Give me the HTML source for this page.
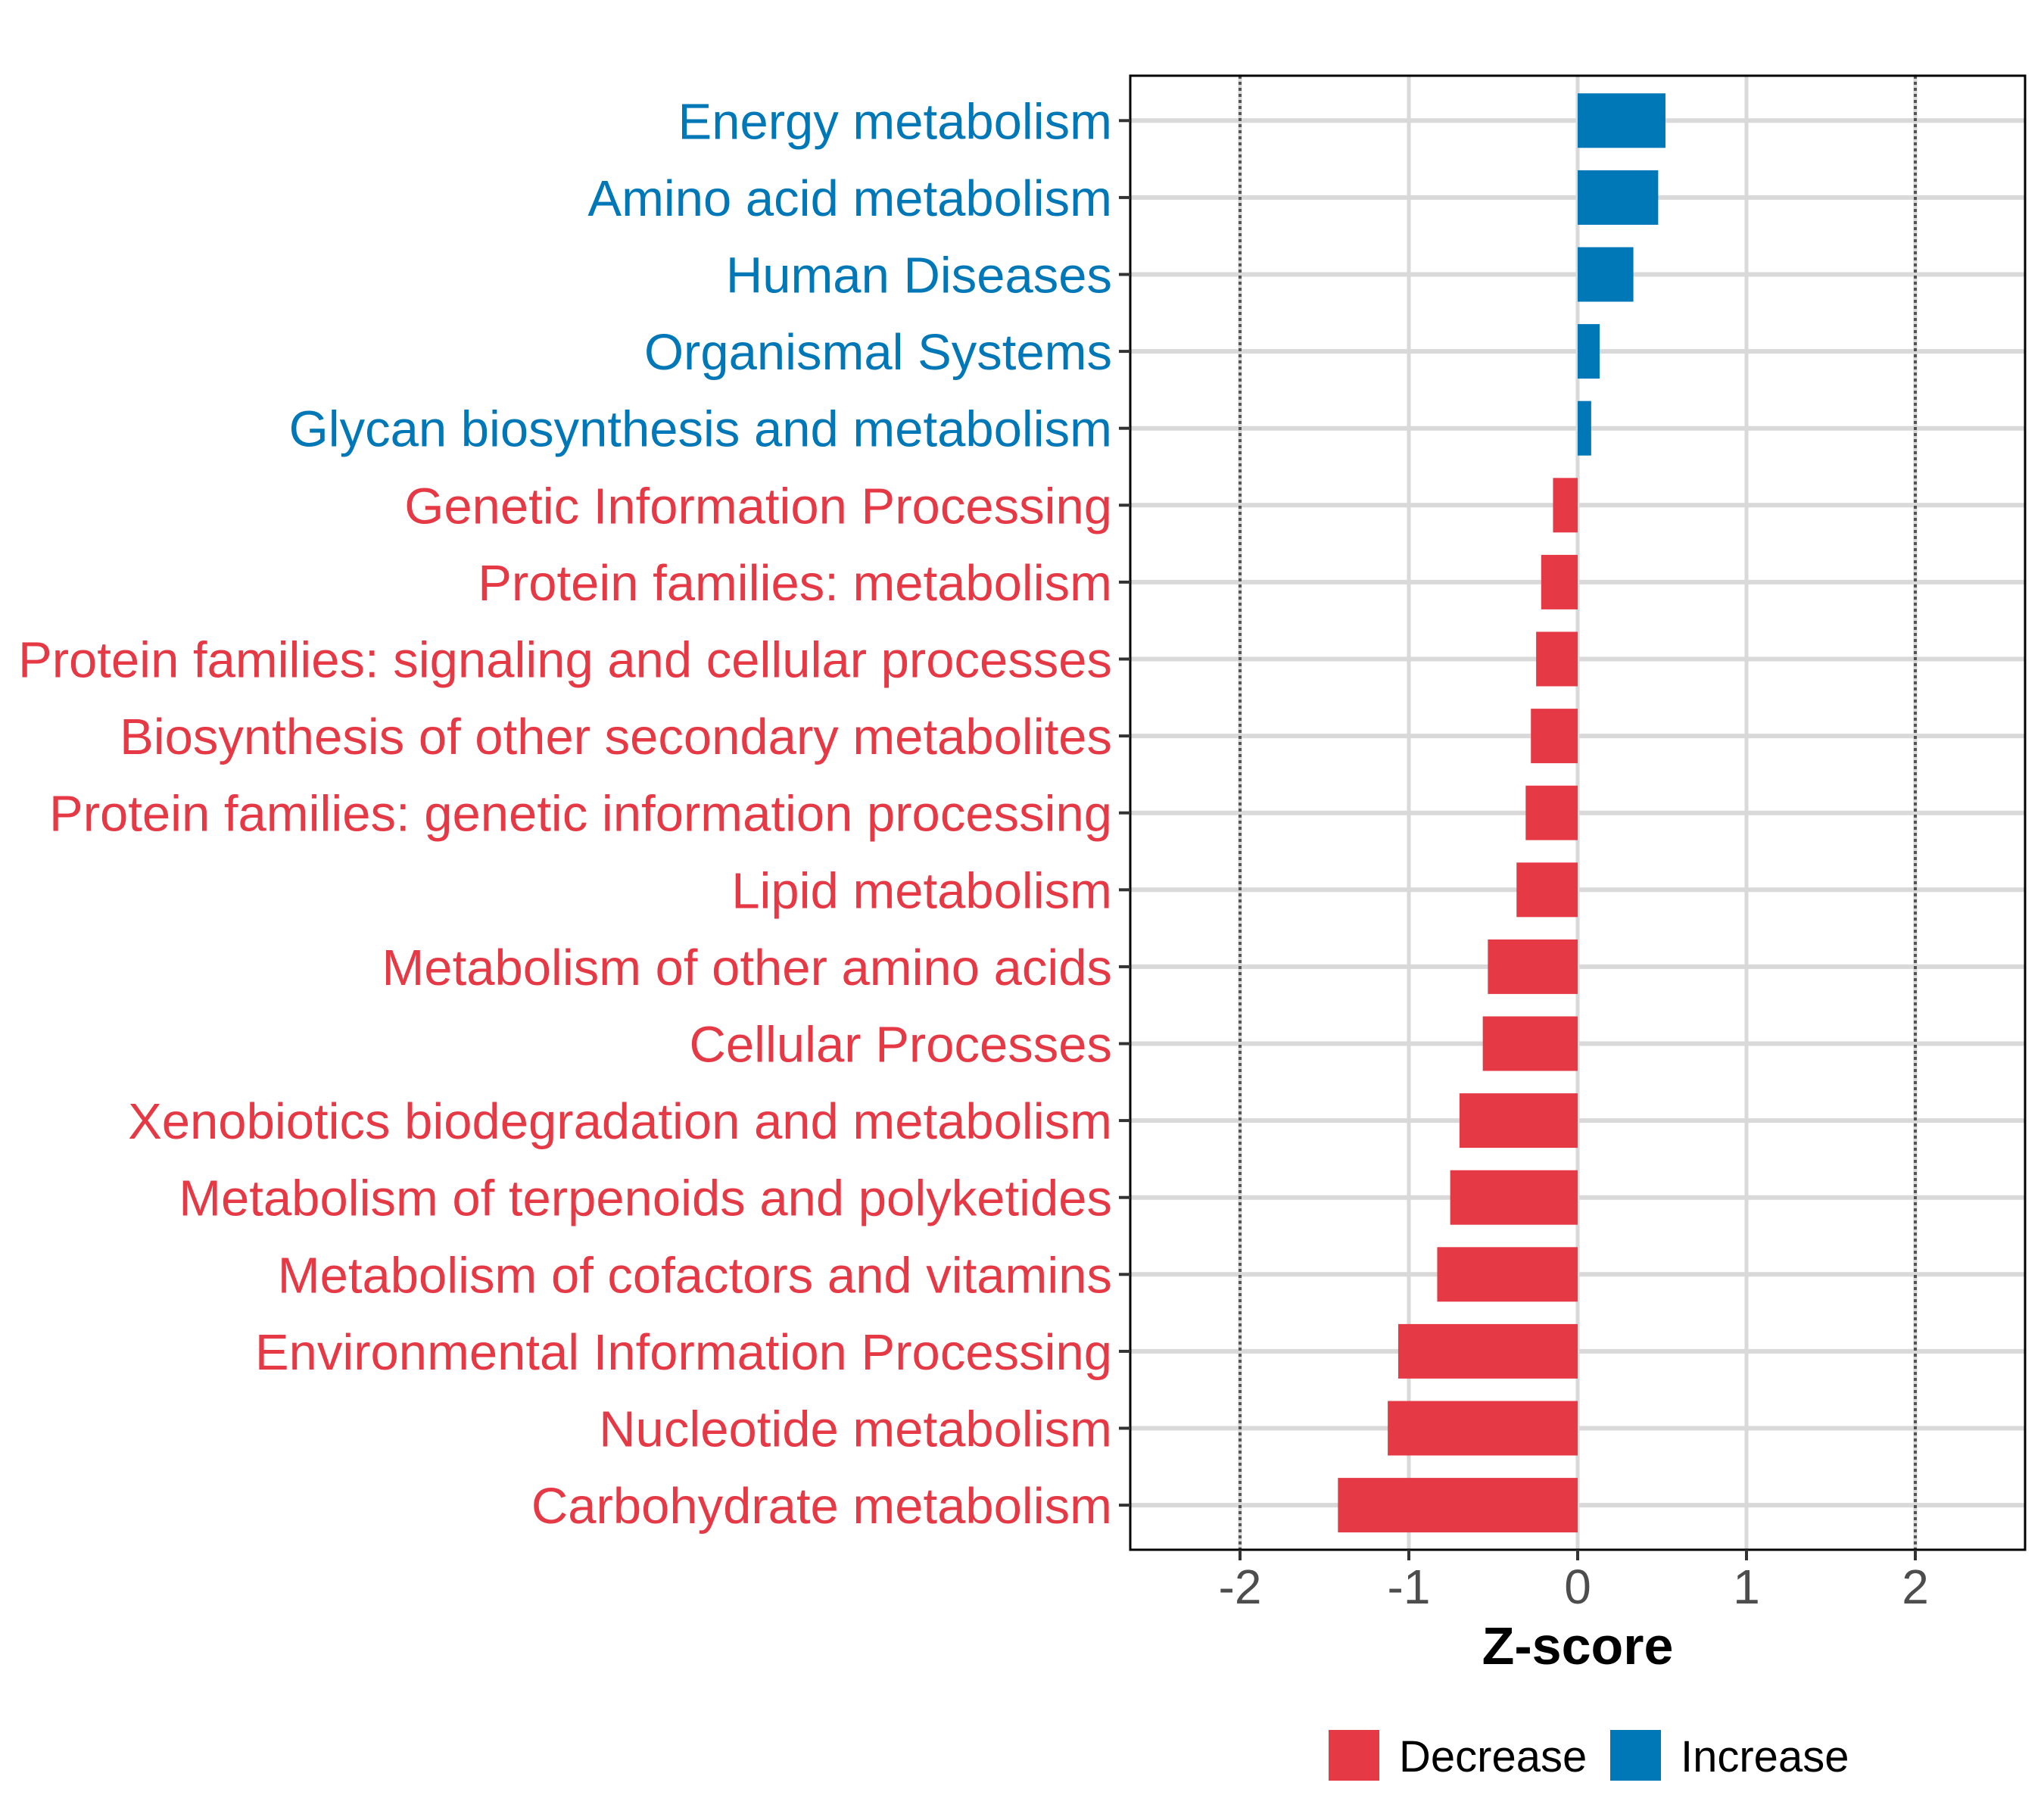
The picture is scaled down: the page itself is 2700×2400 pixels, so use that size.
<!DOCTYPE html>
<html><head><meta charset="utf-8"><style>
html,body{margin:0;padding:0;background:#fff;}
svg{display:block;font-family:"Liberation Sans",Arial,sans-serif;}
</style></head><body>
<svg id="chart" width="2700" height="2400" viewBox="0 0 2700 2400" xmlns="http://www.w3.org/2000/svg">
<rect x="0" y="0" width="2700" height="2400" fill="#fff"/>
<g id="grid"></g>
<g id="bars"></g>
<g id="refs"></g>
<rect x="1493" y="100" width="1182" height="1947" fill="none" stroke="#000" stroke-width="3"/>
<g id="ylabels"></g>
<g id="xticks"></g>
<text x="2084" y="2198" font-size="70" font-weight="bold" text-anchor="middle" fill="#000">Z-score</text>
<g>
<g>
<rect x="1755" y="2285" width="67" height="67" fill="#E63946"/>
<text x="1848" y="2340" font-size="58" fill="#000">Decrease</text>
</g>
<g>
<rect x="2127" y="2285" width="67" height="67" fill="#0077B6"/>
<text x="2220" y="2340" font-size="58" fill="#000">Increase</text>
</g>
</g>
</svg>
<script>
const categories = ["Energy metabolism","Amino acid metabolism","Human Diseases","Organismal Systems","Glycan biosynthesis and metabolism","Genetic Information Processing","Protein families: metabolism","Protein families: signaling and cellular processes","Biosynthesis of other secondary metabolites","Protein families: genetic information processing","Lipid metabolism","Metabolism of other amino acids","Cellular Processes","Xenobiotics biodegradation and metabolism","Metabolism of terpenoids and polyketides","Metabolism of cofactors and vitamins","Environmental Information Processing","Nucleotide metabolism","Carbohydrate metabolism"];
const zscores = [0.52,0.477,0.33,0.13,0.08,-0.146,-0.216,-0.246,-0.277,-0.308,-0.362,-0.532,-0.562,-0.70,-0.755,-0.832,-1.063,-1.125,-1.42];
const xTicks = [-2,-1,0,1,2];
const xTickLabels = ["-2","-1","0","1","2"];
const refLines = [-2,2];

const NS="http://www.w3.org/2000/svg";
const PL=1493,PR=2675,PT=100,PB=2047;
const x0=2084, unit=223;
function xs(v){return x0+v*unit;}
const rowStep=101.6, row0=159.3;
function ys(i){return row0+i*rowStep;}
function mk(tag,attrs,parent){const e=document.createElementNS(NS,tag);for(const k in attrs)e.setAttribute(k,attrs[k]);parent.appendChild(e);return e;}
const grid=document.getElementById('grid'),bars=document.getElementById('bars'),refs=document.getElementById('refs'),yl=document.getElementById('ylabels'),xt=document.getElementById('xticks');

xTicks.forEach((t,i)=>{
  const g=mk('line',{x1:xs(t),x2:xs(t),y1:PT,y2:PB,stroke:'#d9d9d9','stroke-width':5},grid);
  
  
  const tk=mk('line',{x1:xs(t),x2:xs(t),y1:PB,y2:PB+14,stroke:'#333','stroke-width':4},xt);
  
  
  const tl=mk('text',{x:xs(t),y:2118,'font-size':64,'text-anchor':'middle',fill:'#4d4d4d'},xt);
  tl.textContent=xTickLabels[i];
  
  
});
categories.forEach((c,i)=>{
  const y=ys(i);
  const g=mk('line',{x1:PL,x2:PR,y1:y,y2:y,stroke:'#d9d9d9','stroke-width':6},grid);
  
  
  const v=zscores[i];
  const col=v>=0?'#0077B6':'#E63946';
  const b=mk('rect',{x:Math.min(xs(0),xs(v)),y:y-36,width:Math.abs(xs(v)-xs(0)),height:72,fill:col},bars);
  
  
  const tk=mk('line',{x1:PL-15,x2:PL,y1:y,y2:y,stroke:'#333','stroke-width':4},yl);
  
  
  const t=mk('text',{x:1469,y:y+24,'font-size':67,'text-anchor':'end',fill:col},yl);
  t.textContent=c;
  
  
});
refLines.forEach(r=>{
  const l=mk('line',{x1:xs(r),x2:xs(r),y1:PT,y2:PB,stroke:'#555','stroke-width':4,'stroke-dasharray':'4 4'},refs);
  
  
});
</script>
</body></html>
